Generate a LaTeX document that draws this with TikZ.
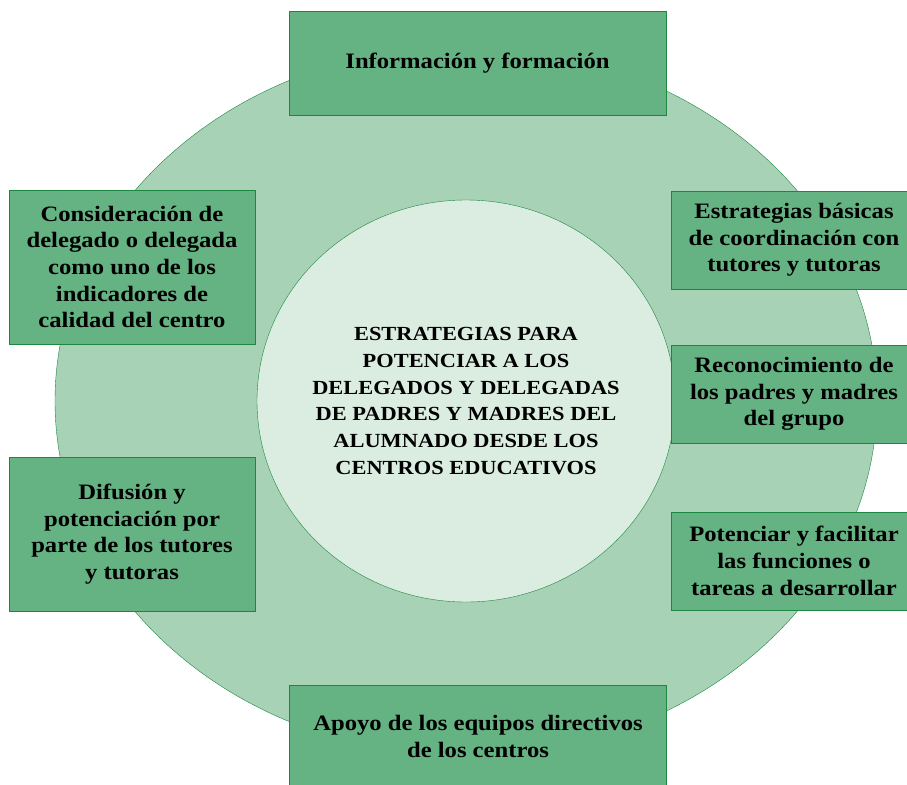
\documentclass[tikz,border=0pt]{standalone}
\usepackage{fontspec}
\setmainfont[FakeStretch=1.12]{Liberation Serif}
\usetikzlibrary{positioning,shapes.geometric}

\definecolor{ringgreen}{HTML}{A7D2B5}
\definecolor{boxgreen}{HTML}{65B283}
\definecolor{linegreen}{HTML}{1C8740}
\definecolor{coregreen}{HTML}{DBECE1}

\begin{document}
\begin{tikzpicture}[x=1pt,y=-1pt,node distance=154pt,on grid,
    txt/.style={align=center,font=\fontsize{22}{26.7}\selectfont\bfseries},
    box/.style={txt,draw=linegreen,fill=boxgreen,line width=1pt,
      minimum width=246pt,inner sep=0pt},
    widebox/.style={box,minimum width=377pt,minimum height=103pt},
    sidebox/.style={box,minimum height=154pt},
    rightbox/.style={box,minimum height=98pt},
    oval/.style={ellipse,draw=linegreen,inner sep=0pt}]
  \clip (0,0) rectangle (907,784);
  \node[oval,fill=ringgreen,minimum width=822pt,minimum height=710pt] (ring) at (466,401) {};
  \node[oval,fill=coregreen,minimum width=418pt,minimum height=402pt] (core) at (466,401) {};
  \node[txt,font=\fontsize{20}{26.7}\selectfont\bfseries] (title) at (core.center)
        {ESTRATEGIAS PARA\\POTENCIAR A LOS\\DELEGADOS Y DELEGADAS\\
         DE PADRES Y MADRES DEL\\ALUMNADO DESDE LOS\\CENTROS EDUCATIVOS};
  % boxes round the ring
  \node[widebox] (info) at (477.5,63.5) {Información y formación};
  \node[widebox] (apoyo) at (478,736.5) {Apoyo de los equipos directivos\\de los centros};
  \node[sidebox] (consid) at (132,267) {Consideración de\\delegado o delegada\\como uno de los\\indicadores de\\calidad del centro};
  \node[sidebox] (difus) at (132,534) {Difusión y\\potenciación por\\parte de los tutores\\y tutoras};
  \node[rightbox] (estrat) at (794,240) {Estrategias básicas\\de coordinación con\\tutores y tutoras};
  \node[rightbox] (recon) [below=154pt of estrat] {Reconocimiento de\\los padres y madres\\del grupo};
  \node[rightbox] (poten) [below=167pt of recon] {Potenciar y facilitar\\las funciones o\\tareas a desarrollar};
\end{tikzpicture}
\end{document}
